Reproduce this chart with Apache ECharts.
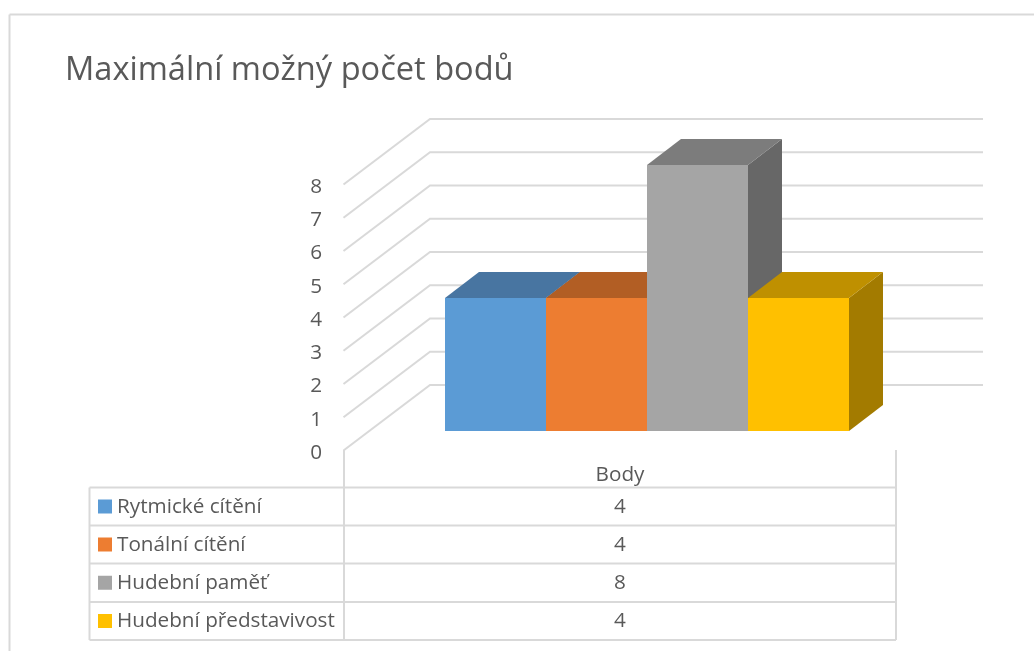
<!DOCTYPE html>
<html><head><meta charset="utf-8">
<style>html,body{margin:0;padding:0;background:#fff}#c{width:1034px;height:651px}</style>
<script src="https://cdn.jsdelivr.net/npm/echarts@6/dist/echarts.min.js"></script>
</head><body><div id="c"></div>
<script>
const titleText = 'Maximální možný počet bodů';
const categories = ['Body'];
const seriesNames = ['Rytmické cítění', 'Tonální cítění', 'Hudební paměť', 'Hudební představivost'];
const seriesValues = [4, 4, 8, 4];
const axisTicks = [0, 1, 2, 3, 4, 5, 6, 7, 8];
const frontColors = ['#5B9BD5', '#ED7D31', '#A5A5A5', '#FFC000'];
const topColors = ['#4875A1', '#B25E24', '#7C7C7C', '#BF9000'];
const sideColors = ['#3A6488', '#9C5321', '#676767', '#A37B00'];

const FONT = '"Open Sans", "Noto Sans", sans-serif';
const FS = 20.7;
const GRID = {left: 344, top: 185, width: 552, height: 266};
const LINE = '#D9D9D9', TEXT = '#595959';
const LW = 2;
const WALL = [86, -66];   // depth of the side wall
const BAR_DEPTH = [34, -26];
const BAR_FLOOR = [26, -20];
const BAR_START = 75, BAR_W = 101;

function wallItem(params, api) {
  const p = api.coord([categories[0], api.value(0)]);
  const band = api.size([1, 0])[0];
  const x0 = p[0] - band / 2, x1 = p[0] + band / 2;
  return {type: 'polyline', silent: true,
    shape: {points: [[x0 - 0.5, p[1] - 0.5], [x0 + WALL[0], p[1] + WALL[1]], [x1 + WALL[0] + 1, p[1] + WALL[1]]]},
    style: {stroke: LINE, lineWidth: LW, fill: null}};
}
function barItem(params, api) {
  const i = params.dataIndex;
  const top = api.coord([categories[0], api.value(1)]);
  const base = api.coord([categories[0], 0]);
  const band = api.size([1, 0])[0];
  const l = top[0] - band / 2 + BAR_START + BAR_FLOOR[0] + i * BAR_W, r = l + BAR_W;
  const t = top[1] + BAR_FLOOR[1], b = base[1] + BAR_FLOOR[1];
  const dx = BAR_DEPTH[0], dy = BAR_DEPTH[1];
  return {type: 'group', children: [
    {type: 'polygon', shape: {points: [[r, t], [r + dx, t + dy], [r + dx, b + dy], [r, b]]}, style: {fill: sideColors[i]}},
    {type: 'polygon', shape: {points: [[l, t], [l + dx, t + dy], [r + dx, t + dy], [r, t]]}, style: {fill: topColors[i]}},
    {type: 'rect', shape: {x: l, y: t, width: BAR_W, height: b - t}, style: {fill: frontColors[i]}}
  ]};
}

const ROW_Y = [487.5, 525.5, 563.5, 602, 640];
const TL = 89.5, TM = 344, TR = 896, TTOP = 450;
const seg = (x1, y1, x2, y2) => ({type: 'line', shape: {x1, y1, x2, y2}, style: {stroke: LINE, lineWidth: LW}});
const tableEls = [
  seg(9.5, 14.5, 9.5, 651), seg(9.5, 14.5, 1034, 14.5),
  seg(TM, TTOP, TM, ROW_Y[4]), seg(TR, TTOP, TR, ROW_Y[4]), seg(TL, ROW_Y[0], TL, ROW_Y[4])
];
ROW_Y.forEach(y => tableEls.push(seg(TL, y, TR, y)));
seriesNames.forEach((name, i) => {
  const cy = (ROW_Y[i] + ROW_Y[i + 1]) / 2;
  tableEls.push({type: 'rect', shape: {x: 98, y: cy - 7, width: 14, height: 14}, style: {fill: frontColors[i]}});
  tableEls.push({type: 'text', x: 117, y: cy + 0.5, style: {text: name, font: FS + 'px ' + FONT, fill: TEXT, textVerticalAlign: 'middle', textAlign: 'left'}});
  tableEls.push({type: 'text', x: 620, y: cy + 0.5, style: {text: String(seriesValues[i]), font: FS + 'px ' + FONT, fill: TEXT, textVerticalAlign: 'middle', textAlign: 'center'}});
});

const chart = echarts.init(document.getElementById('c'), null, {renderer: 'canvas'});
chart.setOption({
  animation: false,
  backgroundColor: '#fff',
  title: {text: titleText, left: 65, top: 49, padding: 0,
    textStyle: {fontFamily: FONT, fontSize: 32.6, fontWeight: 400, color: TEXT, lineHeight: 44}},
  grid: GRID,
  xAxis: {type: 'category', data: categories, axisLine: {show: false}, axisTick: {show: false},
    axisLabel: {fontFamily: FONT, fontSize: FS, color: TEXT, margin: 14}},
  yAxis: {type: 'value', min: axisTicks[0], max: axisTicks[axisTicks.length - 1], interval: 1,
    axisLine: {show: false}, axisTick: {show: false}, splitLine: {show: false},
    axisLabel: {fontFamily: FONT, fontSize: FS, color: TEXT, margin: 22, verticalAlign: 'top', lineHeight: 4}},
  graphic: {elements: tableEls},
  series: [
    {type: 'custom', name: 'wall', renderItem: wallItem, clip: false, silent: true, z: 1,
     encode: {y: 0}, data: axisTicks.map(v => [v])},
    {type: 'custom', name: 'bars', renderItem: barItem, clip: false, z: 2,
     encode: {y: 1}, data: seriesValues.map((v, i) => [i, v])}
  ]
});
</script></body></html>
